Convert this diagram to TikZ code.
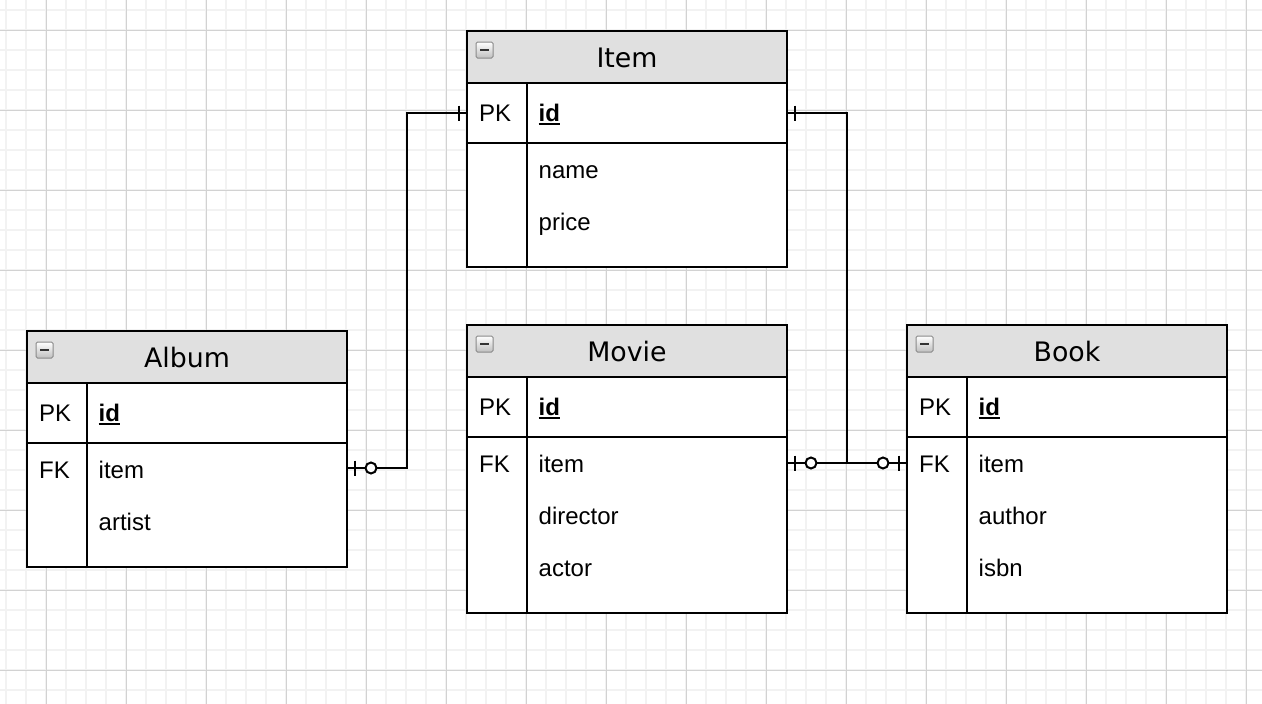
\documentclass[tikz,border=0pt]{standalone}
\usepackage{fontspec}
\setmainfont{Liberation Sans}
\newfontfamily\titlefam{DejaVu Sans}
\definecolor{gridminor}{HTML}{F2F2F2}
\definecolor{gridmajor}{HTML}{D2D2D2}
\definecolor{hdrfill}{HTML}{E0E0E0}
\definecolor{iconedge}{HTML}{8A8A8A}
\definecolor{icondark}{HTML}{333333}
\tikzset{
  minorline/.style={draw=gridminor, line width=1.6pt},
  majorline/.style={draw=gridmajor, line width=1pt},
  hdrbox/.style={draw=black, fill=hdrfill, line width=2pt, minimum width=320pt, minimum height=52pt, inner sep=0pt, outer sep=0pt},
  rowbox/.style={draw=black, fill=white, line width=2pt, minimum width=320pt, inner sep=0pt, outer sep=0pt},
  tline/.style={draw=black, line width=2pt},
  titlefnt/.style={anchor=base, inner sep=0pt, font=\titlefam\fontsize{26.8}{30}\selectfont},
  bodytext/.style={anchor=base west, inner sep=0pt, font=\fontsize{24}{28}\selectfont},
  iconbox/.style={draw=iconedge, line width=1pt, rounded corners=1.5pt, top color=white, bottom color=gray!50, minimum width=17pt, minimum height=16pt, inner sep=0pt, outer sep=0pt},
  icondash/.style={draw=icondark, line width=2.5pt},
  uline/.style={draw=black, line width=2pt},
  conn/.style={draw=black, line width=2pt},
  ringmark/.style={draw=black, line width=2pt, fill=white},
}
\newcommand\ertable[5]{%
  \node[hdrbox, anchor=north west] (#1H) at (#2,#3) {};
  \node[titlefnt] (#1T) at ({#2+160},{#3+36.3}) {#4};
  \node[iconbox, anchor=north west] (#1I) at ({#2+9},{#3+11}) {};
  \draw[icondash] ([xshift=4pt]#1I.west) -- ([xshift=-4pt]#1I.east);
  \node[rowbox, minimum height=60pt, anchor=north west] (#1P) at (#1H.south west) {};
  \node[rowbox, minimum height=#5pt, anchor=north west] (#1A) at (#1P.south west) {};
  \draw[tline] ([xshift=60pt]#1P.north west) -- ([xshift=60pt]#1A.south west);
  \node[bodytext] (#1PK) at ({#2+12},{#3+90.7}) {PK};
  \node[bodytext] (#1id) at ({#2+71.5},{#3+90.7}) {\textbf{id}};
  \draw[uline] ([yshift=-2pt]#1id.base west) -- ([yshift=-2pt]#1id.base east);
}
\begin{document}
\begin{tikzpicture}[x=1pt,y=-1pt]
\useasboundingbox (0,0) rectangle (1262,704);
\fill[white] (0,0) rectangle (1262,704);
% grid
\foreach \gx in {6,26,...,1262} {\draw[minorline] (\gx,0) -- (\gx,704);}
\foreach \gy in {10,30,...,704} {\draw[minorline] (0,\gy) -- (1262,\gy);}
\foreach \gx in {46,126,...,1262} {\draw[majorline] (\gx,0) -- (\gx,704);}
\foreach \gy in {30,110,...,704} {\draw[majorline] (0,\gy) -- (1262,\gy);}

% tables
\ertable{item}{467}{31}{Item}{124}
\node[bodytext] (itemname) at (538.5,178) {name};
\node[bodytext] (itemprice) at (538.5,230) {price};

\ertable{album}{27}{331}{Album}{124}
\node[bodytext] (albumFKt) at (39,478) {FK};
\node[bodytext] (albumitem) at (98.5,478) {item};
\node[bodytext] (albumartist) at (98.5,530) {artist};

\ertable{movie}{467}{325}{Movie}{176}
\node[bodytext] (movieFKt) at (479,472) {FK};
\node[bodytext] (movieitem) at (538.5,472) {item};
\node[bodytext] (moviedirector) at (538.5,524) {director};
\node[bodytext] (movieactor) at (538.5,576) {actor};

\ertable{book}{907}{325}{Book}{176}
\node[bodytext] (bookFKt) at (919,472) {FK};
\node[bodytext] (bookitem) at (978.5,472) {item};
\node[bodytext] (bookauthor) at (978.5,524) {author};
\node[bodytext] (bookisbn) at (978.5,576) {isbn};

% connector end points
\coordinate (albumFK) at (347,468);
\coordinate (movieFK) at (787,463);
\coordinate (bookFK) at (907,463);
\coordinate (junc) at (847,463);

% Item -- Album
\draw[conn] (itemP.west) -- ++(-60,0) |- (albumFK);
\draw[conn] ([xshift=-8pt]itemP.west) ++(0,-7.5) -- ++(0,15);
\draw[conn] ([xshift=8pt]albumFK) ++(0,-7.5) -- ++(0,15);
\draw[ringmark] ([xshift=24pt]albumFK) circle[radius=5.5pt];

% Item -- Movie / Book
\draw[conn] (itemP.east) -| (junc);
\draw[conn] (movieFK) -- (bookFK);
\draw[conn] ([xshift=8pt]itemP.east) ++(0,-7.5) -- ++(0,15);
\draw[conn] ([xshift=8pt]movieFK) ++(0,-7.5) -- ++(0,15);
\draw[ringmark] ([xshift=24pt]movieFK) circle[radius=5.5pt];
\draw[conn] ([xshift=-8pt]bookFK) ++(0,-7.5) -- ++(0,15);
\draw[ringmark] ([xshift=-24pt]bookFK) circle[radius=5.5pt];
\end{tikzpicture}
\end{document}
